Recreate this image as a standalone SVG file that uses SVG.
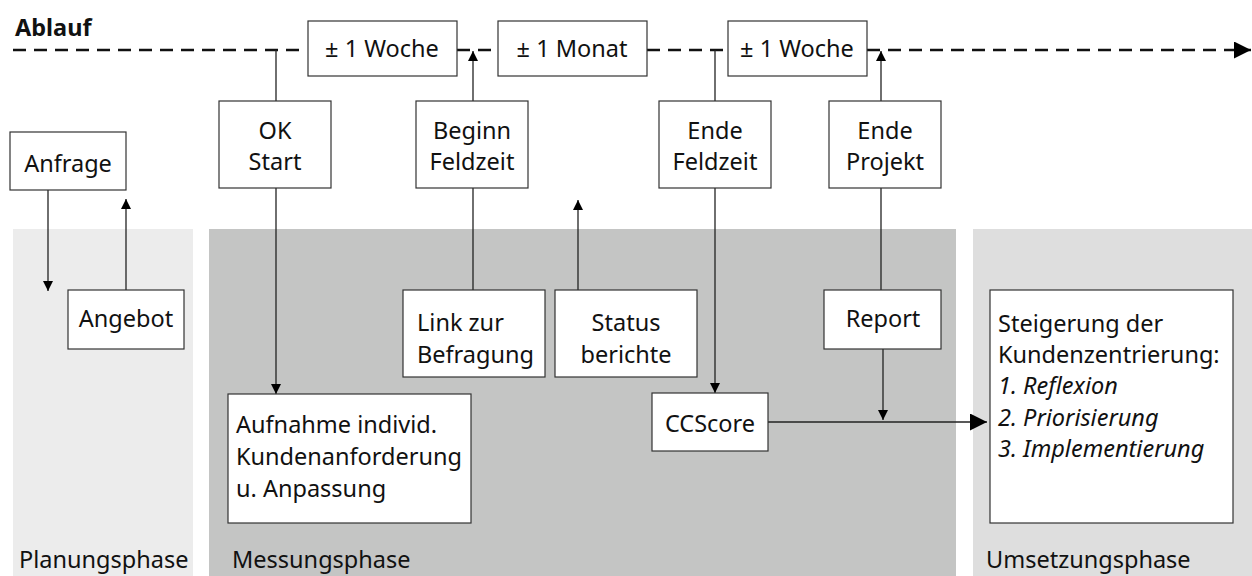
<svg xmlns="http://www.w3.org/2000/svg" width="1252" height="576" viewBox="0 0 1252 576">
<defs>
<marker id="ah" viewBox="0 0 10 10" refX="10" refY="5" markerWidth="10" markerHeight="10" markerUnits="userSpaceOnUse" orient="auto"><path d="M0,0 L10,5 L0,10 Z" fill="#000"/></marker>
<marker id="ahb" viewBox="0 0 10 10" refX="10" refY="5" markerWidth="17" markerHeight="17" markerUnits="userSpaceOnUse" orient="auto"><path d="M0,0 L10,5 L0,10 Z" fill="#000"/></marker>
<style>
.t{font-family:"Noto Sans","Open Sans",sans-serif;font-size:23.5px;fill:#111}
.c{text-anchor:middle}
.b{fill:#fff;stroke:#333;stroke-width:1.2}
.ln{fill:none;stroke:#222;stroke-width:1.3}
.dash{fill:none;stroke:#111;stroke-width:2.5;stroke-dasharray:13,8}
</style>
</defs>
<g id="phases">
<rect x="13" y="229" width="180" height="347" fill="#ececec"/>
<rect x="209" y="229" width="747" height="347" fill="#c4c5c4"/>
<rect x="973" y="229" width="279" height="347" fill="#dedede"/>
<text class="t" x="19" y="568">Planungsphase</text>
<text class="t" x="232" y="568">Messungsphase</text>
<text class="t" x="986" y="568">Umsetzungsphase</text>
</g>
<text class="t" x="15" y="36" font-weight="bold" font-size="22px">Ablauf</text>
<g id="connectors">
<line class="dash" x1="13" y1="50" x2="307" y2="50"/>
<line class="dash" x1="457" y1="50" x2="498" y2="50"/>
<line class="dash" x1="647" y1="50" x2="728" y2="50"/>
<line class="dash" x1="867" y1="50" x2="1251" y2="50" marker-end="url(#ahb)"/>
<line class="ln" x1="276" y1="50" x2="276" y2="101"/>
<line class="ln" x1="276" y1="188" x2="276" y2="394" marker-end="url(#ah)"/>
<line class="ln" x1="48" y1="190" x2="48" y2="291" marker-end="url(#ah)"/>
<line class="ln" x1="126" y1="290" x2="126" y2="199" marker-end="url(#ah)"/>
<line class="ln" x1="473" y1="290" x2="473" y2="188"/>
<line class="ln" x1="473" y1="101" x2="473" y2="51" marker-end="url(#ah)"/>
<line class="ln" x1="578" y1="290" x2="578" y2="200" marker-end="url(#ah)"/>
<line class="ln" x1="715" y1="50" x2="715" y2="101"/>
<line class="ln" x1="715" y1="188" x2="715" y2="393" marker-end="url(#ah)"/>
<line class="ln" x1="881" y1="290" x2="881" y2="188"/>
<line class="ln" x1="881" y1="101" x2="881" y2="51" marker-end="url(#ah)"/>
<line class="ln" x1="883" y1="349" x2="883" y2="420" marker-end="url(#ah)"/>
<line class="ln" x1="768" y1="422" x2="987" y2="422" marker-end="url(#ahb)"/>
</g>
<g id="woche1"><rect class="b" x="308" y="21" width="149" height="55"/><text class="t c" x="382" y="57">± 1 Woche</text></g>
<g id="monat"><rect class="b" x="498" y="21" width="149" height="55"/><text class="t c" x="572" y="57">± 1 Monat</text></g>
<g id="woche2"><rect class="b" x="728" y="21" width="139" height="55"/><text class="t c" x="797" y="57">± 1 Woche</text></g>
<g id="okstart"><rect class="b" x="219" y="101" width="112" height="87"/><text class="t c" x="275" y="139">OK</text><text class="t c" x="275" y="170">Start</text></g>
<g id="beginn"><rect class="b" x="416" y="101" width="112" height="87"/><text class="t c" x="472" y="139">Beginn</text><text class="t c" x="472" y="170">Feldzeit</text></g>
<g id="endefeld"><rect class="b" x="659" y="101" width="112" height="87"/><text class="t c" x="715" y="139">Ende</text><text class="t c" x="715" y="170">Feldzeit</text></g>
<g id="endeprojekt"><rect class="b" x="829" y="101" width="112" height="87"/><text class="t c" x="885" y="139">Ende</text><text class="t c" x="885" y="170">Projekt</text></g>
<g id="anfrage"><rect class="b" x="10" y="132" width="116" height="58"/><text class="t c" x="68" y="172">Anfrage</text></g>
<g id="angebot"><rect class="b" x="68" y="290" width="116" height="59"/><text class="t c" x="126" y="327">Angebot</text></g>
<g id="link"><rect class="b" x="403" y="290" width="142" height="87"/><text class="t" x="417" y="331">Link zur</text><text class="t" x="417" y="363">Befragung</text></g>
<g id="status"><rect class="b" x="555" y="290" width="142" height="87"/><text class="t c" x="626" y="331">Status</text><text class="t c" x="626" y="363">berichte</text></g>
<g id="report"><rect class="b" x="824" y="290" width="117" height="59"/><text class="t c" x="883" y="327">Report</text></g>
<g id="aufnahme"><rect class="b" x="228" y="394" width="243" height="129"/><text class="t" x="236" y="433">Aufnahme individ.</text><text class="t" x="236" y="465">Kundenanforderung</text><text class="t" x="236" y="497">u. Anpassung</text></g>
<g id="ccscore"><rect class="b" x="652" y="393" width="116" height="58"/><text class="t c" x="710" y="432">CCScore</text></g>
<g id="steigerung"><rect class="b" x="990" y="290" width="243" height="233"/>
<text class="t" x="998" y="332">Steigerung der</text>
<text class="t" x="998" y="363">Kundenzentrierung:</text>
<text class="t" x="998" y="394" font-style="italic">1. Reflexion</text>
<text class="t" x="998" y="426" font-style="italic">2. Priorisierung</text>
<text class="t" x="998" y="457" font-style="italic">3. Implementierung</text>
</g>
</svg>
